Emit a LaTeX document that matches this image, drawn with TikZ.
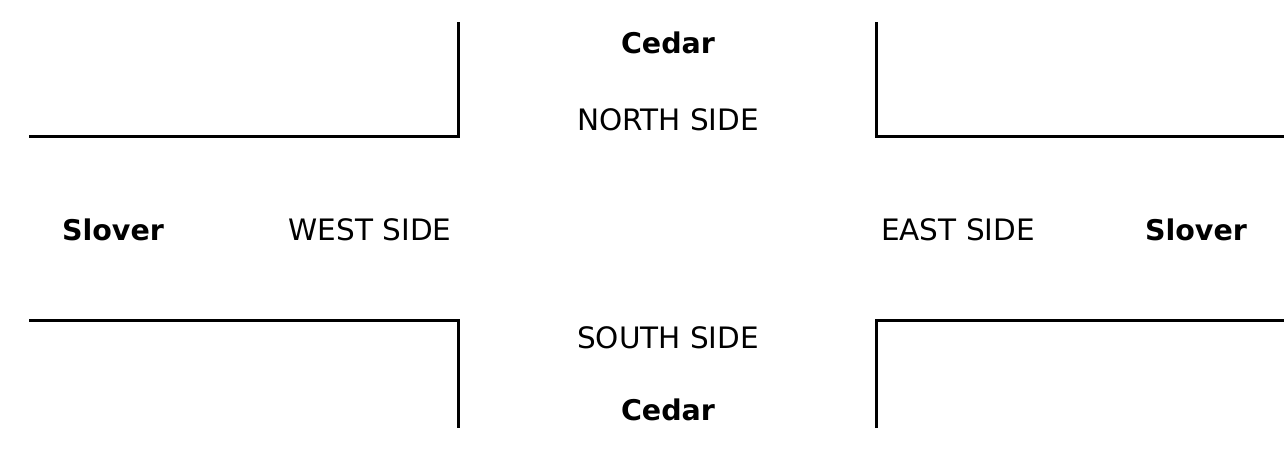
\documentclass[tikz,border=0pt]{standalone}
\usepackage{fontspec}
\setmainfont{DejaVu Sans}
\begin{document}
\begin{tikzpicture}[x=1pt,y=-1pt,
  curb/.style={line width=3pt,line join=miter},
  street/.style={font=\fontsize{28.5}{30}\selectfont\bfseries,anchor=base,inner sep=0pt},
  side/.style={font=\fontsize{29.5}{31}\selectfont,anchor=base,inner sep=0pt}]
\useasboundingbox (0,0) rectangle (1287,451);
% curbs
\draw[curb] (29,136) -- (458,136) -- (458,22);
\draw[curb] (876,22) -- (876,136) -- (1284,136);
\draw[curb] (29,320) -- (458,320) -- (458,428);
\draw[curb] (876,428) -- (876,320) -- (1284,320);
% labels
\node[street] (cedarN) at (668,53) {Cedar};
\node[side] (north) at (668,130) {NORTH SIDE};
\node[street] (sloverW) at (113,240) {Slover};
\node[side] (west) at (370,240) {WEST SIDE};
\node[side] (east) at (958,240) {EAST SIDE};
\node[street] (sloverE) at (1196,240) {Slover};
\node[side] (south) at (668,348) {SOUTH SIDE};
\node[street] (cedarS) at (668,420) {Cedar};
\end{tikzpicture}
\end{document}
